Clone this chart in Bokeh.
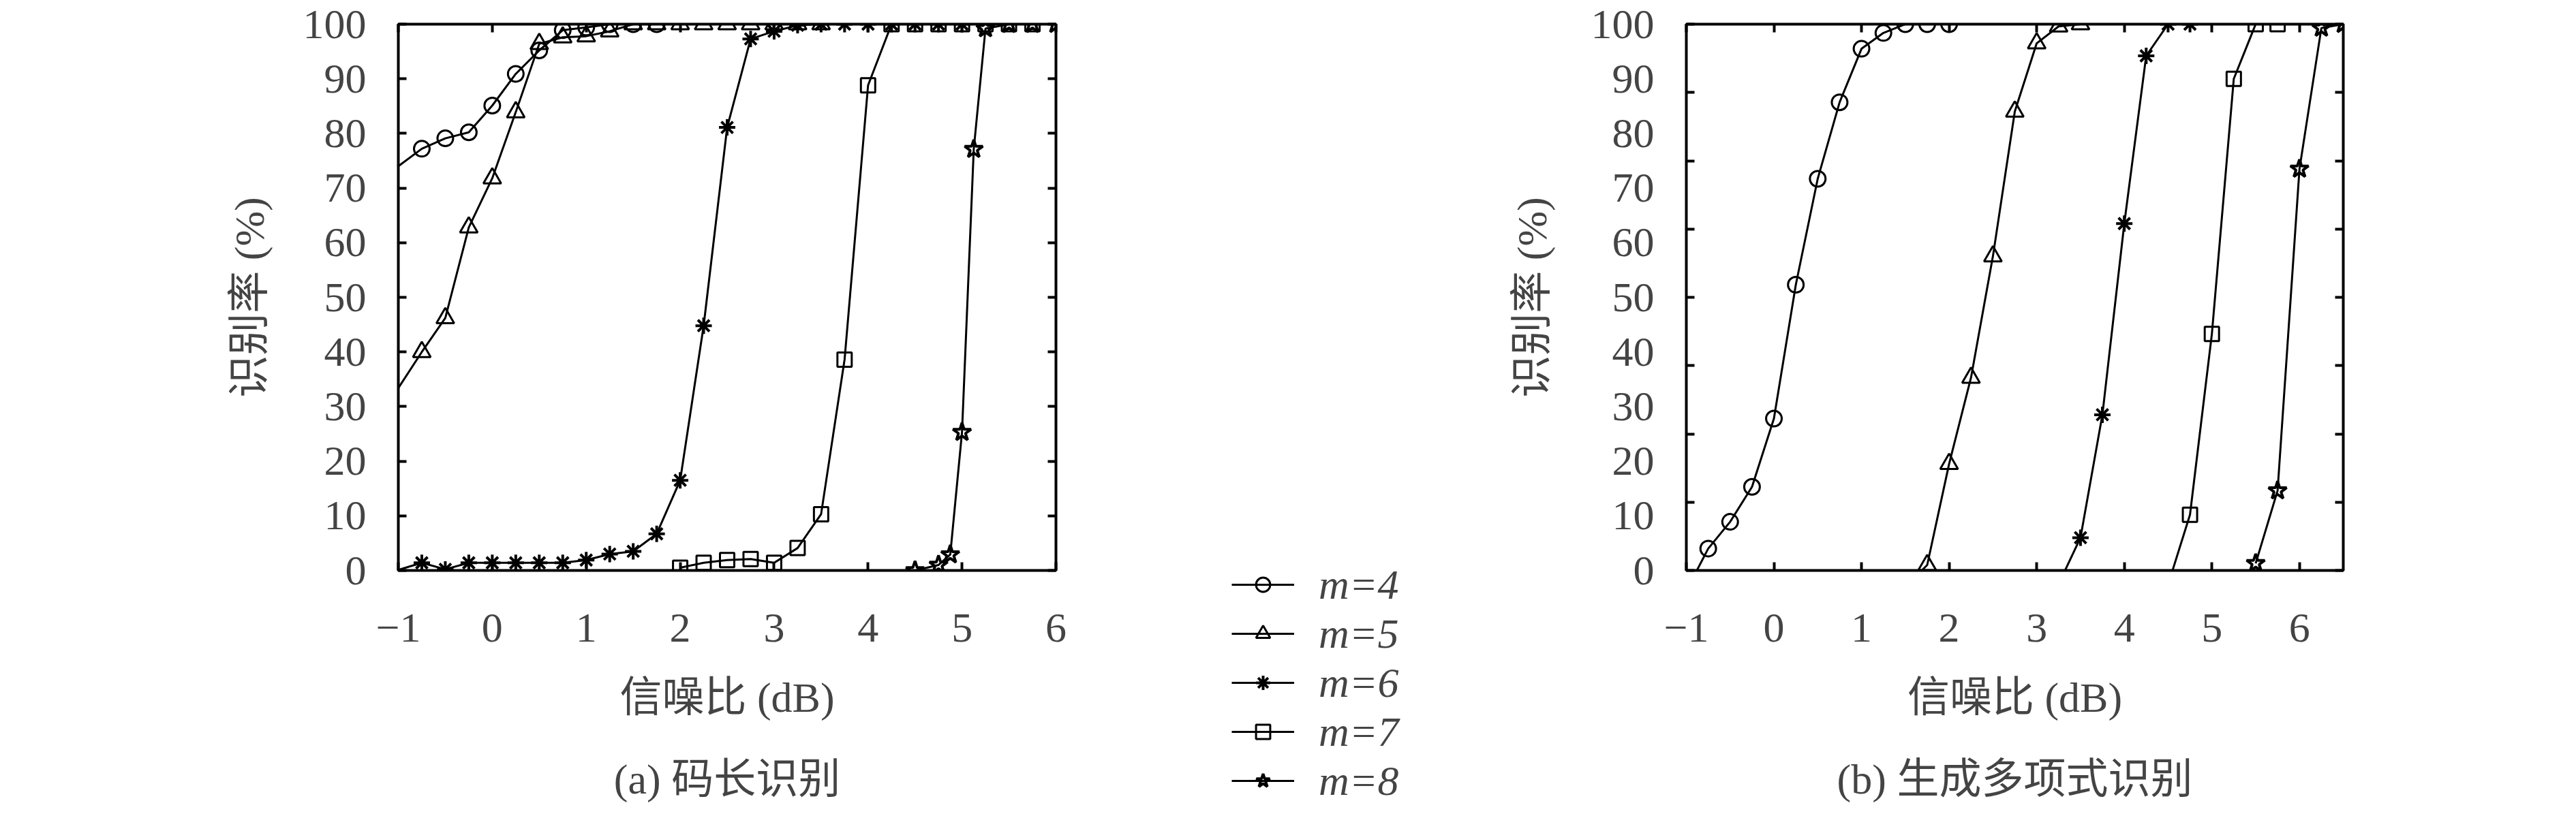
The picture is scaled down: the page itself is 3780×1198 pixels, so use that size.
from bokeh.plotting import figure
from bokeh.models import LinearAxis, FixedTicker, Range1d, Legend, LegendItem, Title
from bokeh.layouts import row, column
from bokeh.embed import file_html
from bokeh.resources import INLINE

# ---------------- data ----------------
series_labels = ["m=4", "m=5", "m=6", "m=7", "m=8"]

# (a) 码长识别
a_snr_m4 = [-1.25, -0.75, -0.5, -0.25, 0, 0.25, 0.5, 0.75, 1.0, 1.25, 1.5, 1.75]
a_rate_m4 = [70.8, 77.2, 79.1, 80.2, 85.1, 90.9, 95.2, 98.9, 99.4, 100, 100, 100]
a_snr_m5 = [-1.25, -0.75, -0.5, -0.25, 0, 0.25, 0.5, 0.75, 1.0, 1.25, 1.5, 1.75,
            2.0, 2.25, 2.5, 2.75, 3.0, 3.25, 3.5]
a_rate_m5 = [26.8, 40.0, 46.2, 62.8, 71.8, 83.9, 96.4, 97.6, 97.8, 98.7, 100, 100,
             100, 100, 100, 100, 100, 100, 100]
a_snr_m6 = [-1.25, -0.75, -0.5, -0.25, 0, 0.25, 0.5, 0.75, 1.0, 1.25, 1.5, 1.75,
            2.0, 2.25, 2.5, 2.75, 3.0, 3.25, 3.5, 3.75, 4.0, 4.25, 4.5, 4.75, 5.0]
a_rate_m6 = [-1.2, 1.4, 0.2, 1.4, 1.4, 1.4, 1.4, 1.4, 1.9, 3.0, 3.5, 6.7,
             16.5, 44.8, 81.1, 97.3, 98.7, 99.8, 100, 100, 100, 100, 100, 100, 100]
a_snr_m7 = [2.0, 2.25, 2.5, 2.75, 3.0, 3.25, 3.5, 3.75, 4.0, 4.25, 4.5, 4.75, 5.0, 5.25, 5.5, 5.75]
a_rate_m7 = [0.5, 1.4, 1.9, 2.1, 1.4, 4.1, 10.3, 38.6, 88.8, 100, 100, 100, 100, 100, 100, 100]
a_snr_m8 = [4.5, 4.75, 4.875, 5.0, 5.125, 5.25, 5.5, 5.75, 6.0]
a_rate_m8 = [0.0, 1.0, 2.9, 25.3, 77.1, 99.2, 100, 100, 100]

# (b) 生成多项式识别
b_snr_m4 = [-1.0, -0.75, -0.5, -0.25, 0, 0.25, 0.5, 0.75, 1.0, 1.25, 1.5, 1.75, 2.0]
b_rate_m4 = [-3.7, 4.0, 8.9, 15.3, 27.8, 52.3, 71.7, 85.7, 95.5, 98.4, 100, 100, 100]
b_snr_m5 = [1.5, 1.75, 2.0, 2.25, 2.5, 2.75, 3.0, 3.25, 3.5]
b_rate_m5 = [-3.0, 1.0, 19.5, 35.3, 57.5, 84.0, 96.5, 99.6, 100]
b_snr_m6 = [3.25, 3.5, 3.75, 4.0, 4.25, 4.5, 4.75]
b_rate_m6 = [-2.5, 6.0, 28.5, 63.5, 94.2, 100, 100]
b_snr_m7 = [4.5, 4.75, 5.0, 5.25, 5.5, 5.75]
b_rate_m7 = [-2.6, 10.2, 43.3, 90.0, 100, 100]
b_snr_m8 = [5.5, 5.75, 6.0, 6.25, 6.5]
b_rate_m8 = [1.3, 14.6, 73.5, 99.3, 100]

x_tick_values = [-1, 0, 1, 2, 3, 4, 5, 6]
y_label_values = [0, 10, 20, 30, 40, 50, 60, 70, 80, 90, 100]
a_y_tick_marks = [0, 10, 20, 30, 40, 50, 60, 70, 80, 90, 100]
b_y_tick_marks = [0, 12.5, 25, 37.5, 50, 62.5, 75, 87.5, 100]

# ---------------- style ----------------
LATIN = "Liberation Serif"
MIXED = "'Liberation Serif', 'Noto Sans CJK SC'"
FS = "62px"
MARKERS = ["circle", "triangle", "asterisk", "square", "star"]
MSIZES = [23, 26, 24, 21, 28]
MLINE = [3, 3, 4, 3, 4]
TOP = 35
BOTTOM_PAGE = 845
TOTAL_H = 1182


def tick_only_axis(ticks):
    return LinearAxis(ticker=FixedTicker(ticks=ticks), axis_line_color=None,
                      major_tick_in=12, major_tick_out=0, major_tick_line_width=4,
                      minor_tick_line_color=None, major_label_text_font_size="1px",
                      major_label_text_color=None, major_label_standoff=0)


def build(xs, ys, x_end, y_marks, frame_w, min_left, min_right, ylab_standoff, caption):
    frame_h = BOTTOM_PAGE - 8 - TOP
    p = figure(frame_width=frame_w, frame_height=frame_h,
               x_range=Range1d(-1, x_end), y_range=Range1d(0, 100),
               x_axis_type=None, y_axis_type=None,
               output_backend="svg", toolbar_location=None,
               min_border_left=min_left, min_border_right=min_right,
               min_border_top=TOP, min_border_bottom=TOTAL_H - TOP - frame_h)
    p.outline_line_color = "black"
    p.outline_line_width = 4
    p.outline_line_alpha = 1.0
    p.background_fill_color = "white"
    p.border_fill_color = "white"

    xb = LinearAxis(ticker=FixedTicker(ticks=x_tick_values), axis_line_color=None,
                    major_tick_in=12, major_tick_out=0, major_tick_line_width=4,
                    minor_tick_line_color=None,
                    major_label_text_font=LATIN, major_label_text_font_size=FS,
                    major_label_standoff=64, major_label_overrides={-1: "\u22121"},
                    axis_label="信噪比 (dB)", axis_label_text_font=MIXED,
                    axis_label_text_font_size=FS, axis_label_text_font_style="normal",
                    axis_label_standoff=45)
    p.add_layout(xb, "below")
    p.add_layout(tick_only_axis(y_marks), "left")
    yl = LinearAxis(ticker=FixedTicker(ticks=y_label_values), axis_line_color=None,
                    major_tick_line_color=None, minor_tick_line_color=None,
                    major_tick_in=0, major_tick_out=0,
                    major_label_text_font=LATIN, major_label_text_font_size=FS,
                    major_label_standoff=47,
                    axis_label="识别率 (%)", axis_label_text_font=MIXED,
                    axis_label_text_font_size=FS, axis_label_text_font_style="normal",
                    axis_label_standoff=ylab_standoff)
    p.add_layout(yl, "left")
    p.add_layout(tick_only_axis(x_tick_values), "above")
    p.add_layout(tick_only_axis(y_marks), "right")

    p.add_layout(Title(text=caption, align="center", text_font=MIXED, text_font_size=FS,
                       text_font_style="normal", standoff=94), "below")

    for i in range(5):
        p.line(xs[i], ys[i], line_color="black", line_width=3)
        p.scatter(xs[i], ys[i], marker=MARKERS[i], size=MSIZES[i],
                  line_color="black", line_width=MLINE[i], fill_color=None)
    return p


a_xs = [a_snr_m4, a_snr_m5, a_snr_m6, a_snr_m7, a_snr_m8]
a_ys = [a_rate_m4, a_rate_m5, a_rate_m6, a_rate_m7, a_rate_m8]
pa = build(a_xs, a_ys, 6, a_y_tick_marks, 965, 584, 143, 42, "(a) 码长识别")
pb = build([b_snr_m4, b_snr_m5, b_snr_m6, b_snr_m7, b_snr_m8],
           [b_rate_m4, b_rate_m5, b_rate_m6, b_rate_m7, b_rate_m8],
           6.5, b_y_tick_marks, 964, 382, 326, 50, "(b) 生成多项式识别")

# legend panel between the two charts (page x 1700..2100); its frame only hosts the key
LEG_TOP = 822
pm = figure(frame_width=400, frame_height=TOTAL_H - LEG_TOP, x_axis_type=None, y_axis_type=None,
            x_range=Range1d(100, 101), y_range=Range1d(100, 101),
            output_backend="svg", toolbar_location=None,
            min_border_left=0, min_border_right=0, min_border_top=LEG_TOP, min_border_bottom=0)
pm.outline_line_color = None
pm.background_fill_color = "white"
pm.border_fill_color = "white"
items = []
for i in range(5):
    lr = pm.line(a_xs[i], a_ys[i], line_color="black", line_width=3)
    sr = pm.scatter(a_xs[i], a_ys[i], marker=MARKERS[i], size=MSIZES[i],
                    line_color="black", line_width=MLINE[i], fill_color=None)
    items.append(LegendItem(label=series_labels[i], renderers=[lr, sr]))
legend = Legend(items=items, location=(115, 0), orientation="vertical",
                glyph_width=92, glyph_height=52, label_height=72, label_standoff=36,
                spacing=0, padding=0, margin=0, border_line_color=None,
                background_fill_alpha=0, label_text_font=LATIN,
                label_text_font_size=FS, label_text_font_style="italic")
pm.add_layout(legend)

layout = row(pa, column(pm), pb)
open("out.html", "w").write(file_html(layout, INLINE))
